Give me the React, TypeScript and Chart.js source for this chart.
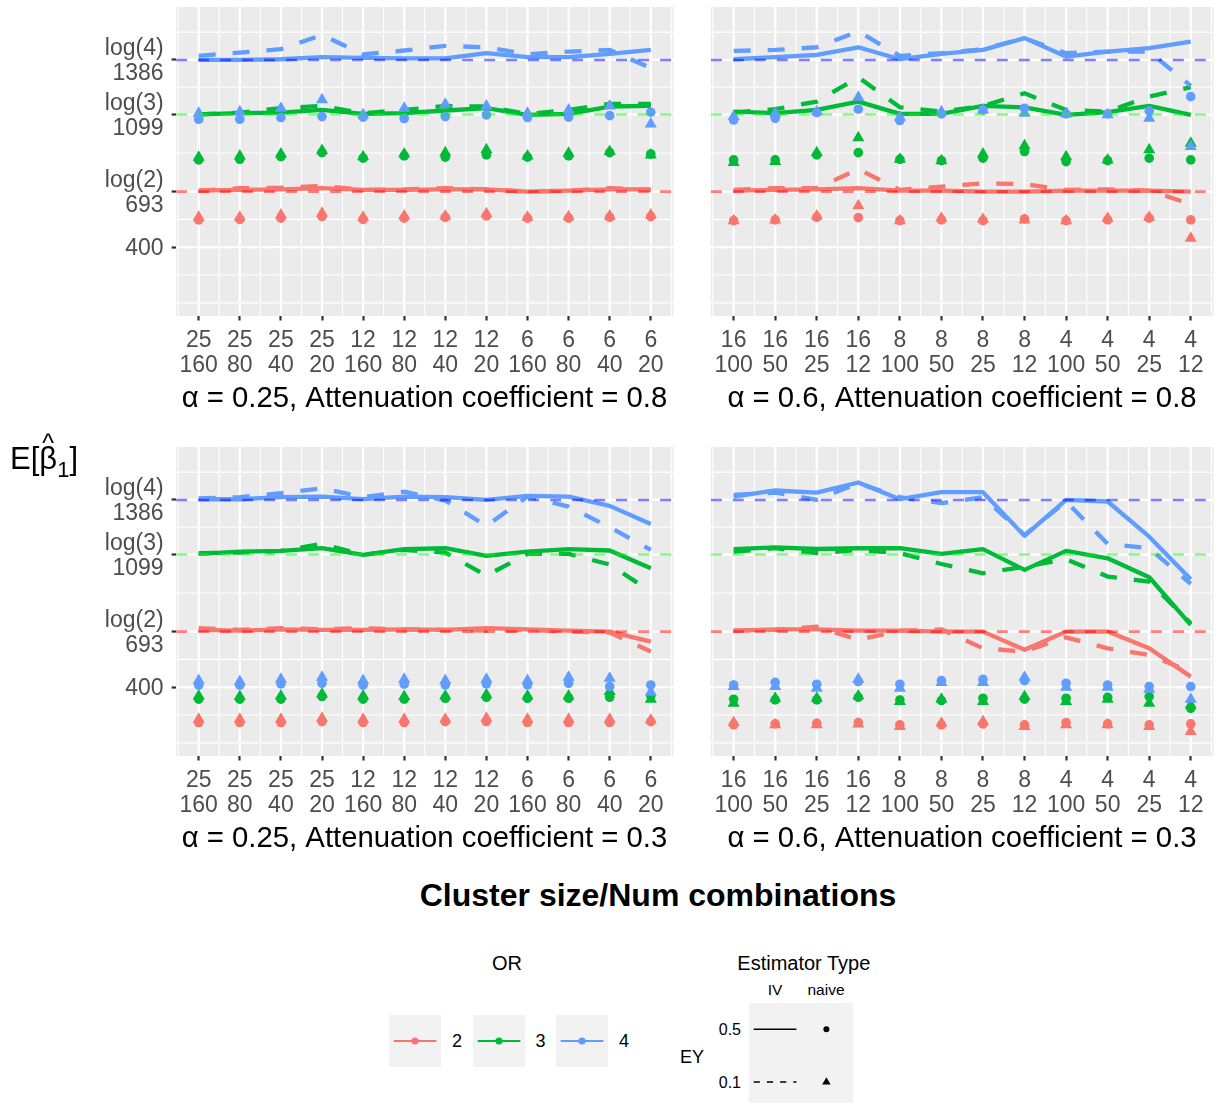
import React, { useEffect, useRef } from "react";
import { Chart, registerables } from "chart.js";

Chart.register(...registerables);

const FONT = "'Liberation Sans', Arial, Helvetica, sans-serif";

// ---- categories (cluster size / number of combinations) ----
const xLabelsLeft = [
  ["25", "160"], ["25", "80"], ["25", "40"], ["25", "20"],
  ["12", "160"], ["12", "80"], ["12", "40"], ["12", "20"],
  ["6", "160"], ["6", "80"], ["6", "40"], ["6", "20"],
];
const xLabelsRight = [
  ["16", "100"], ["16", "50"], ["16", "25"], ["16", "12"],
  ["8", "100"], ["8", "50"], ["8", "25"], ["8", "12"],
  ["4", "100"], ["4", "50"], ["4", "25"], ["4", "12"],
];

// ---- y axis ----
const yBreaks = [400, 693.1, 1098.6, 1386.3];
const yBreakLabels = [["400"], ["log(2)", "693"], ["log(3)", "1099"], ["log(4)", "1386"]];
const yMinorBreaks = [107, 253.5, 546.6, 895.9, 1242.5, 1532.8];
const yLimits = [38, 1665];
const refValues = [693.1, 1098.6, 1386.3];

const orLevels = ["2", "3", "4"];
const orColors = ["#F8766D", "#00BA38", "#619CFF"];
const refColors = ["rgba(255,0,0,0.5)", "rgba(0,255,0,0.5)", "rgba(0,0,255,0.5)"];

const panelTitles = [
  "α = 0.25, Attenuation coefficient = 0.8",
  "α = 0.6, Attenuation coefficient = 0.8",
  "α = 0.25, Attenuation coefficient = 0.3",
  "α = 0.6, Attenuation coefficient = 0.3",
];

// ---- panel 1: alpha 0.25, attenuation 0.8 ----
const p1Solid2 = [698, 702, 705, 711, 702, 702, 705, 705, 693, 698, 705, 705];
const p1Solid3 = [1100, 1106, 1109, 1123, 1102, 1106, 1120, 1132, 1097, 1102, 1141, 1144];
const p1Solid4 = [1387, 1387, 1390, 1401, 1397, 1395, 1395, 1422, 1401, 1401, 1418, 1439];
const p1Dash2 = [698, 711, 714, 723, 702, 705, 711, 705, 693, 698, 711, 702];
const p1Dash3 = [1100, 1109, 1132, 1144, 1106, 1123, 1144, 1141, 1102, 1123, 1155, 1155];
const p1Dash4 = [1408, 1425, 1443, 1518, 1416, 1436, 1460, 1453, 1416, 1430, 1439, 1343];
const p1Circ2 = [544, 547, 553, 561, 547, 553, 558, 565, 553, 553, 558, 561];
const p1Circ3 = [860, 863, 877, 898, 869, 881, 874, 886, 874, 881, 898, 891];
const p1Circ4 = [1074, 1074, 1083, 1088, 1085, 1078, 1088, 1097, 1083, 1085, 1093, 1111];
const p1Tri2 = [558, 558, 570, 579, 558, 565, 565, 576, 558, 561, 565, 570];
const p1Tri3 = [874, 881, 891, 909, 877, 891, 898, 913, 881, 895, 904, 886];
const p1Tri4 = [1106, 1114, 1132, 1176, 1097, 1132, 1153, 1144, 1106, 1123, 1144, 1049];

// ---- panel 2: alpha 0.6, attenuation 0.8 ----
const p2Solid2 = [698, 702, 705, 711, 698, 698, 693, 693, 698, 698, 698, 693];
const p2Solid3 = [1114, 1106, 1123, 1167, 1102, 1102, 1144, 1137, 1097, 1111, 1144, 1097];
const p2Solid4 = [1390, 1401, 1413, 1453, 1390, 1418, 1439, 1501, 1404, 1430, 1448, 1483];
const p2Dash2 = [702, 711, 711, 811, 702, 719, 737, 732, 702, 705, 698, 628];
const p2Dash3 = [1109, 1127, 1167, 1295, 1137, 1114, 1144, 1211, 1123, 1114, 1193, 1243];
const p2Dash4 = [1434, 1439, 1453, 1536, 1408, 1422, 1443, 1501, 1422, 1430, 1430, 1250];
const p2Circ2 = [540, 544, 558, 556, 540, 544, 540, 549, 540, 544, 553, 544];
const p2Circ3 = [860, 860, 886, 898, 863, 856, 869, 904, 851, 856, 869, 860];
const p2Circ4 = [1070, 1079, 1109, 1127, 1067, 1102, 1123, 1132, 1102, 1102, 1118, 1193];
const p2Tri2 = [540, 544, 565, 619, 540, 553, 547, 544, 540, 553, 558, 447];
const p2Tri3 = [846, 851, 898, 977, 863, 856, 891, 934, 877, 860, 913, 948];
const p2Tri4 = [1088, 1106, 1114, 1190, 1085, 1114, 1123, 1106, 1102, 1097, 1079, 930];

// ---- panel 3: alpha 0.25, attenuation 0.3 ----
const p3Solid2 = [702, 698, 705, 702, 702, 705, 702, 711, 705, 698, 693, 640];
const p3Solid3 = [1102, 1114, 1118, 1132, 1097, 1127, 1132, 1092, 1114, 1127, 1120, 1027];
const p3Solid4 = [1390, 1390, 1401, 1404, 1390, 1404, 1401, 1387, 1408, 1404, 1355, 1260];
const p3Dash2 = [711, 702, 711, 705, 711, 705, 702, 698, 702, 693, 688, 588];
const p3Dash3 = [1106, 1109, 1118, 1155, 1097, 1123, 1109, 988, 1102, 1102, 1046, 904];
const p3Dash4 = [1394, 1401, 1422, 1448, 1401, 1430, 1383, 1250, 1404, 1351, 1243, 1123];
const p3Circ2 = [214, 214, 214, 219, 214, 214, 219, 219, 214, 214, 214, 219];
const p3Circ3 = [337, 337, 337, 351, 337, 337, 342, 347, 342, 342, 347, 354];
const p3Circ4 = [411, 411, 418, 421, 411, 416, 412, 418, 412, 421, 404, 412];
const p3Tri2 = [231, 231, 231, 237, 231, 231, 231, 237, 231, 231, 231, 228];
const p3Tri3 = [354, 351, 354, 365, 354, 351, 354, 360, 354, 354, 377, 337];
const p3Tri4 = [435, 430, 442, 453, 435, 442, 435, 442, 435, 453, 447, 374];

// ---- panel 4: alpha 0.6, attenuation 0.3 ----
const p4Solid2 = [698, 705, 705, 698, 698, 693, 693, 597, 693, 693, 605, 456];
const p4Solid3 = [1127, 1137, 1128, 1132, 1132, 1102, 1127, 1018, 1118, 1079, 979, 728];
const p4Solid4 = [1404, 1436, 1425, 1478, 1390, 1427, 1427, 1197, 1387, 1378, 1193, 969];
const p4Dash2 = [698, 702, 719, 649, 698, 705, 605, 588, 663, 605, 570, 482];
const p4Dash3 = [1114, 1132, 1106, 1123, 1106, 1049, 1000, 1035, 1074, 983, 956, 737];
const p4Dash4 = [1413, 1425, 1387, 1474, 1401, 1369, 1401, 1202, 1378, 1155, 1132, 944];
const p4Circ2 = [202, 207, 210, 214, 202, 202, 207, 202, 214, 207, 202, 207];
const p4Circ3 = [337, 333, 333, 347, 333, 330, 342, 337, 342, 347, 351, 289];
const p4Circ4 = [412, 426, 416, 430, 416, 435, 442, 435, 421, 412, 404, 404];
const p4Tri2 = [214, 202, 202, 207, 193, 210, 219, 193, 202, 202, 193, 167];
const p4Tri3 = [316, 342, 342, 354, 325, 337, 325, 351, 325, 337, 316, 307];
const p4Tri4 = [404, 404, 395, 442, 395, 425, 425, 453, 400, 400, 389, 337];

// ---- layout of the four panels (page pixels) ----
const panels = [
  { left: 176.1, top: 7, width: 497.3, height: 309, xLabels: xLabelsLeft, yAxis: true, titleX: 424.5, titleY: 397,
    solid: [p1Solid2, p1Solid3, p1Solid4], dashed: [p1Dash2, p1Dash3, p1Dash4], circ: [p1Circ2, p1Circ3, p1Circ4], tri: [p1Tri2, p1Tri3, p1Tri4] },
  { left: 710.8, top: 7, width: 502.8, height: 309, xLabels: xLabelsRight, yAxis: false, titleX: 962, titleY: 397,
    solid: [p2Solid2, p2Solid3, p2Solid4], dashed: [p2Dash2, p2Dash3, p2Dash4], circ: [p2Circ2, p2Circ3, p2Circ4], tri: [p2Tri2, p2Tri3, p2Tri4] },
  { left: 176.1, top: 447, width: 497.3, height: 309, xLabels: xLabelsLeft, yAxis: true, titleX: 424.5, titleY: 837,
    solid: [p3Solid2, p3Solid3, p3Solid4], dashed: [p3Dash2, p3Dash3, p3Dash4], circ: [p3Circ2, p3Circ3, p3Circ4], tri: [p3Tri2, p3Tri3, p3Tri4] },
  { left: 710.8, top: 447, width: 502.8, height: 309, xLabels: xLabelsRight, yAxis: false, titleX: 962, titleY: 837,
    solid: [p4Solid2, p4Solid3, p4Solid4], dashed: [p4Dash2, p4Dash3, p4Dash4], circ: [p4Circ2, p4Circ3, p4Circ4], tri: [p4Tri2, p4Tri3, p4Tri4] },
];

const panelPlugin = {
  id: "panelPlugin",
  beforeDraw(chart: any) {
    const { ctx, chartArea: a, scales } = chart;
    const x = scales.x, y = scales.y;
    ctx.save();
    ctx.fillStyle = "#EBEBEB";
    ctx.fillRect(a.left, a.top, a.right - a.left, a.bottom - a.top);
    ctx.beginPath();
    ctx.rect(a.left, a.top, a.right - a.left, a.bottom - a.top);
    ctx.clip();
    ctx.strokeStyle = "#FFFFFF";
    const hline = (v: number, w: number) => {
      const py = y.getPixelForValue(v);
      ctx.lineWidth = w;
      ctx.beginPath(); ctx.moveTo(a.left, py); ctx.lineTo(a.right, py); ctx.stroke();
    };
    const vline = (v: number, w: number) => {
      const px = x.getPixelForValue(v);
      ctx.lineWidth = w;
      ctx.beginPath(); ctx.moveTo(px, a.top); ctx.lineTo(px, a.bottom); ctx.stroke();
    };
    yMinorBreaks.forEach((v) => hline(v, 1.1));
    for (let i = -1; i < 12; i++) vline(i + 0.5, 1.1);
    yBreaks.forEach((v) => hline(v, 2.2));
    for (let i = 0; i < 12; i++) vline(i, 2.2);
    ctx.restore();
  },
  afterDatasetsDraw(chart: any) {
    const { ctx, chartArea: a, scales } = chart;
    ctx.save();
    ctx.beginPath();
    ctx.rect(a.left, a.top, a.right - a.left, a.bottom - a.top);
    ctx.clip();
    ctx.lineWidth = 2.6;
    ctx.setLineDash([11, 11]);
    refValues.forEach((v, k) => {
      const py = scales.y.getPixelForValue(v);
      ctx.strokeStyle = refColors[k];
      ctx.beginPath(); ctx.moveTo(a.left, py); ctx.lineTo(a.right, py); ctx.stroke();
    });
    ctx.restore();
  },
};

function Panel({ p }: { p: any }) {
  const ref = useRef<HTMLCanvasElement | null>(null);
  const cx = p.yAxis ? 0 : 700;
  const cw = p.yAxis ? 684 : 522;
  const cy = p.top - 7;
  const ch = 7 + p.height + 70;
  const padLeft = p.yAxis ? 0 : p.left - cx;
  const padRight = cx + cw - (p.left + p.width);

  useEffect(() => {
    const datasets: any[] = [];
    for (let k = 0; k < 3; k++) {
      datasets.push({
        label: `IV EY=0.5 OR=${orLevels[k]}`,
        data: p.solid[k].map((v: number, i: number) => ({ x: i, y: v })),
        borderColor: orColors[k], borderWidth: 4.3, pointRadius: 0, tension: 0,
        borderCapStyle: "butt", borderJoinStyle: "round", fill: false, order: 20 - k,
      });
      datasets.push({
        label: `IV EY=0.1 OR=${orLevels[k]}`,
        data: p.dashed[k].map((v: number, i: number) => ({ x: i, y: v })),
        borderColor: orColors[k], borderWidth: 4.3, borderDash: [17, 17], pointRadius: 0, tension: 0,
        borderCapStyle: "butt", borderJoinStyle: "round", fill: false, order: 20 - k,
      });
      datasets.push({
        label: `naive EY=0.5 OR=${orLevels[k]}`,
        data: p.circ[k].map((v: number, i: number) => ({ x: i, y: v })),
        showLine: false, pointStyle: "circle", pointRadius: 4.8,
        pointBackgroundColor: orColors[k], pointBorderColor: orColors[k], pointBorderWidth: 0, order: 10 - k,
      });
      datasets.push({
        label: `naive EY=0.1 OR=${orLevels[k]}`,
        data: p.tri[k].map((v: number, i: number) => ({ x: i, y: v })),
        showLine: false, pointStyle: "triangle", pointRadius: 7,
        pointBackgroundColor: orColors[k], pointBorderColor: orColors[k], pointBorderWidth: 0, order: 10 - k,
      });
    }
    const tickFont = { family: FONT, size: 23, lineHeight: 25 / 23 };
    const chart = new Chart(ref.current as HTMLCanvasElement, {
      type: "line",
      data: { datasets },
      options: {
        animation: false,
        responsive: false,
        events: [],
        layout: { padding: { left: padLeft, right: padRight, top: 7, bottom: 0 } },
        plugins: { legend: { display: false }, tooltip: { enabled: false } },
        scales: {
          x: {
            type: "linear", min: -0.55, max: 11.55,
            afterBuildTicks: (s: any) => { s.ticks = p.xLabels.map((_: any, i: number) => ({ value: i })); },
            afterFit: (s: any) => { s.height = 70; s.paddingLeft = 0; s.paddingRight = 0; },
            ticks: {
              autoSkip: false, maxRotation: 0, minRotation: 0, padding: 8,
              color: "#4D4D4D", font: tickFont,
              callback: (v: any) => p.xLabels[Math.round(Number(v))],
            },
            grid: { color: "transparent", drawTicks: true, tickLength: 4.5, tickColor: "#333333", tickWidth: 2.2 },
            border: { display: false },
          },
          y: {
            type: "linear", min: yLimits[0], max: yLimits[1], display: p.yAxis,
            afterBuildTicks: (s: any) => { s.ticks = yBreaks.map((v) => ({ value: v })); },
            afterFit: (s: any) => {
              if (p.yAxis) s.width = p.left;
              s.paddingTop = 0; s.paddingBottom = 0;
            },
            ticks: {
              padding: 8, labelOffset: 1.5, color: "#4D4D4D", font: tickFont,
              callback: (_v: any, i: number) => yBreakLabels[i],
            },
            grid: { color: "transparent", drawTicks: true, tickLength: 4.5, tickColor: "#333333", tickWidth: 2.2 },
            border: { display: false },
          },
        },
      } as any,
      plugins: [panelPlugin],
    });
    return () => chart.destroy();
  }, []);

  return (
    <canvas
      ref={ref}
      width={cw}
      height={ch}
      style={{ position: "absolute", left: cx, top: cy, width: cw, height: ch }}
    />
  );
}

function Text({ x, y, size, children, align = "center", bold = false, color = "#000" }: any) {
  const w = 700;
  const left = align === "center" ? x - w / 2 : align === "right" ? x - w : x;
  return (
    <div
      style={{
        position: "absolute", left, top: y - size * 0.6, width: w, height: size * 1.2,
        lineHeight: `${size * 1.2}px`, fontSize: size, fontFamily: FONT, color,
        fontWeight: bold ? "bold" : "normal", textAlign: align, whiteSpace: "nowrap",
      }}
    >
      {children}
    </div>
  );
}

function Legend() {
  const keyLefts = [389.3, 472.7, 556.3];
  const labelX = [452, 535.5, 619];
  return (
    <>
      <Text x={507} y={962.7} size={20}>OR</Text>
      {orColors.map((c, k) => (
        <React.Fragment key={k}>
          <svg
            width={52} height={52}
            style={{ position: "absolute", left: keyLefts[k], top: 1015, background: "#F2F2F2" }}
          >
            <line x1={4.7} y1={26} x2={47.4} y2={26} stroke={c} strokeWidth={2.2} />
            <circle cx={26} cy={26} r={3.6} fill={c} />
          </svg>
          <Text x={labelX[k]} y={1041.7} size={18} align="left">{orLevels[k]}</Text>
        </React.Fragment>
      ))}
      <Text x={737.3} y={962.7} size={20} align="left">Estimator Type</Text>
      <Text x={775} y={990.7} size={15.5}>IV</Text>
      <Text x={826} y={990.7} size={15.5}>naive</Text>
      <svg width={104} height={101} style={{ position: "absolute", left: 749.3, top: 1002.7, background: "#F2F2F2" }}>
        <line x1={4.7} y1={26.3} x2={47.4} y2={26.3} stroke="#000" strokeWidth={1.5} />
        <circle cx={77.4} cy={26.3} r={3} fill="#000" />
        <line x1={4.7} y1={79} x2={47.4} y2={79} stroke="#000" strokeWidth={1.5} strokeDasharray="6.2 7" />
        <polygon points="77.4,74.2 81.6,81.4 73.2,81.4" fill="#000" />
      </svg>
      <Text x={741} y={1030} size={16} align="right">0.5</Text>
      <Text x={741} y={1082.7} size={16} align="right">0.1</Text>
      <Text x={680} y={1058} size={18} align="left">EY</Text>
    </>
  );
}

export default function App() {
  return (
    <div
      style={{
        position: "absolute", left: 0, top: 0, width: 1222, height: 1103,
        overflow: "hidden", background: "#FFFFFF", fontFamily: FONT,
      }}
    >
      {panels.map((p, i) => (
        <React.Fragment key={i}>
          <Panel p={p} />
          <Text x={p.titleX} y={p.titleY} size={29.3}>{panelTitles[i]}</Text>
        </React.Fragment>
      ))}
      <Text x={658} y={895} size={32} bold>Cluster size/Num combinations</Text>
      <div
        style={{
          position: "absolute", left: 10, top: 441, fontSize: 31, lineHeight: "36px",
          fontFamily: FONT, color: "#000", whiteSpace: "nowrap",
        }}
      >
        E[
        <span style={{ position: "relative", display: "inline-block" }}>
          β
          <span
            style={{
              position: "absolute", left: 0, right: 0, top: -16, textAlign: "center", fontSize: 25,
            }}
          >
            ^
          </span>
        </span>
        <span style={{ fontSize: 22, position: "relative", top: 8 }}>1</span>]
      </div>
      <Legend />
    </div>
  );
}
